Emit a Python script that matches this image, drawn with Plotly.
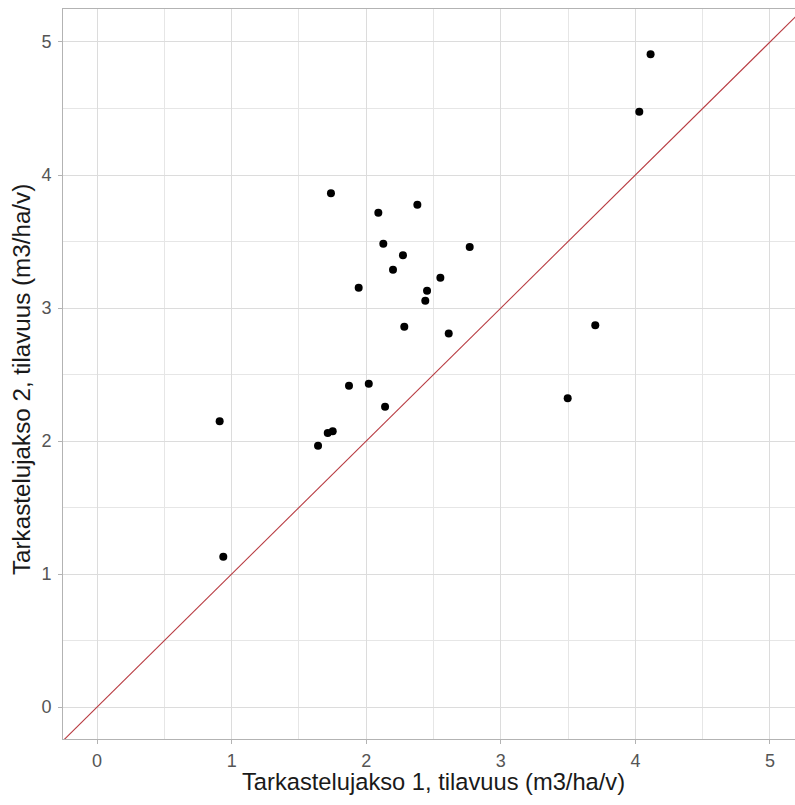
import plotly.graph_objects as go

x_vals = [4.113, 4.029, 1.738, 2.090, 2.380, 2.127, 2.273, 2.769, 2.199, 2.551,
          1.944, 2.452, 2.439, 2.283, 2.613, 3.702, 3.497, 1.872, 2.019, 2.140,
          0.911, 1.714, 1.751, 1.642, 0.938]
y_vals = [4.907, 4.476, 3.862, 3.717, 3.777, 3.484, 3.396, 3.459, 3.288, 3.228,
          3.153, 3.130, 3.055, 2.860, 2.809, 2.870, 2.321, 2.416, 2.431, 2.258,
          2.148, 2.060, 2.073, 1.965, 1.130]
line_x = [-1, 6]
line_y = [-1, 6]
tick_vals = [0, 1, 2, 3, 4, 5]

x_title = "Tarkastelujakso 1, tilavuus (m3/ha/v)"
y_title = "Tarkastelujakso 2, tilavuus (m3/ha/v)"

FONT = "Liberation Sans, Arial, sans-serif"

fig = go.Figure()
fig.add_trace(go.Scatter(x=line_x, y=line_y, mode="lines",
                         line=dict(color="#b83c42", width=1.1), hoverinfo="skip"))
fig.add_trace(go.Scatter(x=x_vals, y=y_vals, mode="markers",
                         marker=dict(color="black", size=8)))

axis_common = dict(
    tickvals=tick_vals,
    showgrid=True, gridcolor="#dcdcdc", gridwidth=1,
    minor=dict(dtick=0.5, showgrid=True, gridcolor="#e6e6e6", gridwidth=1),
    zeroline=False,
    showline=True, linecolor="#b3b3b3", linewidth=1,
    ticks="outside", ticklen=4, tickcolor="#b3b3b3", tickwidth=1,
    tickfont=dict(family=FONT, size=18, color="#555555"),
    automargin=False,
)

fig.update_layout(
    width=795, height=805,
    margin=dict(l=63, r=0, t=9, b=66),
    paper_bgcolor="white", plot_bgcolor="white",
    showlegend=False,
    xaxis=dict(range=[-0.253, 5.186], mirror=True, ticklabelstandoff=1, **axis_common),
    yaxis=dict(range=[-0.24, 5.248], ticklabelstandoff=3, **axis_common),
    annotations=[
        dict(text=x_title, xref="paper", yref="paper", x=0.506, y=-0.0589,
             xanchor="center", yanchor="middle", showarrow=False,
             font=dict(family=FONT, size=23.7, color="#1a1a1a")),
        dict(text=y_title, xref="paper", yref="paper", x=-0.056, y=0.4918,
             xanchor="center", yanchor="middle", showarrow=False, textangle=-90,
             font=dict(family=FONT, size=24.2, color="#1a1a1a")),
    ],
)

fig.write_html(
    "out.html",
    config={"displayModeBar": False},
    post_script="document.body.style.margin='0';document.body.style.overflow='hidden';",
)
